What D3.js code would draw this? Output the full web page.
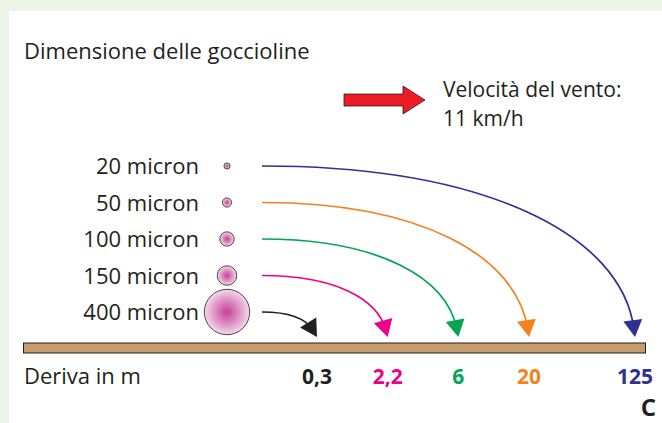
<!DOCTYPE html>
<html>
<head>
<meta charset="utf-8">
<script src="https://cdn.jsdelivr.net/npm/d3@7"></script>
<style>
  body { margin: 0; background: #fff; }
  svg { display: block; }
  text { font-family: "Open Sans", "Noto Sans", sans-serif; fill: #231f20; }
</style>
</head>
<body>
<svg id="chart" width="662" height="423"></svg>
<script>
// droplet sizes (micron) and how far each one drifts (m) at 11 km/h
var dropSizes = [20, 50, 100, 150, 400];
var dropLabels = ["20 micron", "50 micron", "100 micron", "150 micron", "400 micron"];
var driftValues = [125, 20, 6, 2.2, 0.3];
var driftLabels = ["125", "20", "6", "2,2", "0,3"];
var driftColors = ["#2e3192", "#f58220", "#00a651", "#ec008c", "#231f20"];

var W = 662, H = 423;
var svg = d3.select("#chart");

// green page frame + white panel
svg.append("rect").attr("width", W).attr("height", H).attr("fill", "#ebf4e6");
svg.append("rect").attr("x", 9).attr("y", 11).attr("width", W - 9).attr("height", H - 11).attr("fill", "#fff");

var defs = svg.append("defs");
var grad = defs.append("radialGradient").attr("id", "drop");
grad.append("stop").attr("offset", "0%").attr("stop-color", "#c63f99");
grad.append("stop").attr("offset", "55%").attr("stop-color", "#df92c4");
grad.append("stop").attr("offset", "100%").attr("stop-color", "#f4d8eb");

// scales
var y = d3.scalePoint().domain(dropSizes).range([166, 312]);
var r = d3.scaleLinear().domain([0, 400]).range([2, 22.7]);
var driftSorted = driftValues.slice().sort(d3.ascending);
// schematic spacing by rank; the longest drift is pushed out to the end of the ground
var n = driftSorted.length;
var xRank = d3.scaleLinear().domain([0, n - 2, n - 1]).range([317, 529, 635]);
var x = function(v) { return xRank(driftSorted.indexOf(v)); };

var groundTop = 343, groundH = 10;
var tipY = groundTop - 6;
var startX = 262, dropX = 227, labelX = 199;

// title
svg.append("text").attr("x", 24).attr("y", 59).style("font-size", "22px")
  .text("Dimensione delle goccioline");

// wind arrow + text
var wind = [[344, 94], [403, 94], [403, 86], [425, 100], [403, 114], [403, 106], [344, 106]];
svg.append("polygon").attr("points", wind.join(" "))
  .attr("fill", "#ed1c24").attr("stroke", "#231f20").attr("stroke-width", 0.8);
svg.append("text").attr("x", 443).attr("y", 97).style("font-size", "21px").text("Velocità del vento:");
svg.append("text").attr("x", 443).attr("y", 126).style("font-size", "21px").text("11 km/h");

// ground
svg.append("rect").attr("x", 23.5).attr("y", groundTop).attr("width", 622).attr("height", groundH)
  .attr("fill", "#c69c6d").attr("stroke", "#231f20").attr("stroke-width", 1);

// droplet rows
var rows = svg.append("g").selectAll("g").data(dropSizes).join("g");

rows.append("text")
  .attr("x", labelX).attr("y", function(d) { return y(d) + 8; })
  .attr("text-anchor", "end").style("font-size", "22px")
  .text(function(d, i) { return dropLabels[i]; });

rows.append("circle")
  .attr("cx", dropX).attr("cy", function(d) { return y(d); })
  .attr("r", function(d) { return r(d); })
  .attr("fill", "url(#drop)").attr("stroke", "#231f20").attr("stroke-width", 0.8);

// drift arrows
function arrowGeom(size, i) {
  var x0 = startX, y0 = y(size);
  var x1 = x(driftValues[i]), y1 = tipY;
  var dx = x1 - x0, dy = y1 - y0;
  var L = 0.6 * dy;
  var slope = 0.05 + 14 / dy;
  var p1 = [x0 + 0.6 * dx, y0];
  var p2 = [x1 - slope * L, y1 - L];
  var ux = x1 - p2[0], uy = y1 - p2[1];
  var len = Math.sqrt(ux * ux + uy * uy);
  ux /= len; uy /= len;
  var end = [x1 - 8 * ux, y1 - 8 * uy];
  var bx = x1 - 17 * ux, by = y1 - 17 * uy;
  return {
    path: "M" + x0 + "," + y0 + " C" + p1.join(",") + " " + p2.join(",") + " " + end.join(","),
    head: [[x1, y1], [bx - 9.5 * uy, by + 9.5 * ux], [bx + 9.5 * uy, by - 9.5 * ux]]
  };
}

rows.append("path")
  .attr("d", function(d, i) { return arrowGeom(d, i).path; })
  .attr("fill", "none")
  .attr("stroke", function(d, i) { return driftColors[i]; })
  .attr("stroke-width", 1.7);

rows.append("polygon")
  .attr("points", function(d, i) { return arrowGeom(d, i).head.join(" "); })
  .attr("fill", function(d, i) { return driftColors[i]; });

// bottom labels
svg.append("text").attr("x", 24).attr("y", 384).style("font-size", "22px").text("Deriva in m");

svg.append("g").selectAll("text").data(driftValues).join("text")
  .attr("x", function(d) { return x(d); })
  .attr("y", 384)
  .attr("text-anchor", "middle")
  .style("font-size", "21px").style("font-weight", "bold")
  .style("fill", function(d, i) { return driftColors[i]; })
  .text(function(d, i) { return driftLabels[i]; });

svg.append("text").attr("x", 656).attr("y", 416).attr("text-anchor", "end")
  .style("font-size", "24px").style("font-weight", "bold").text("C");
</script>
</body>
</html>
